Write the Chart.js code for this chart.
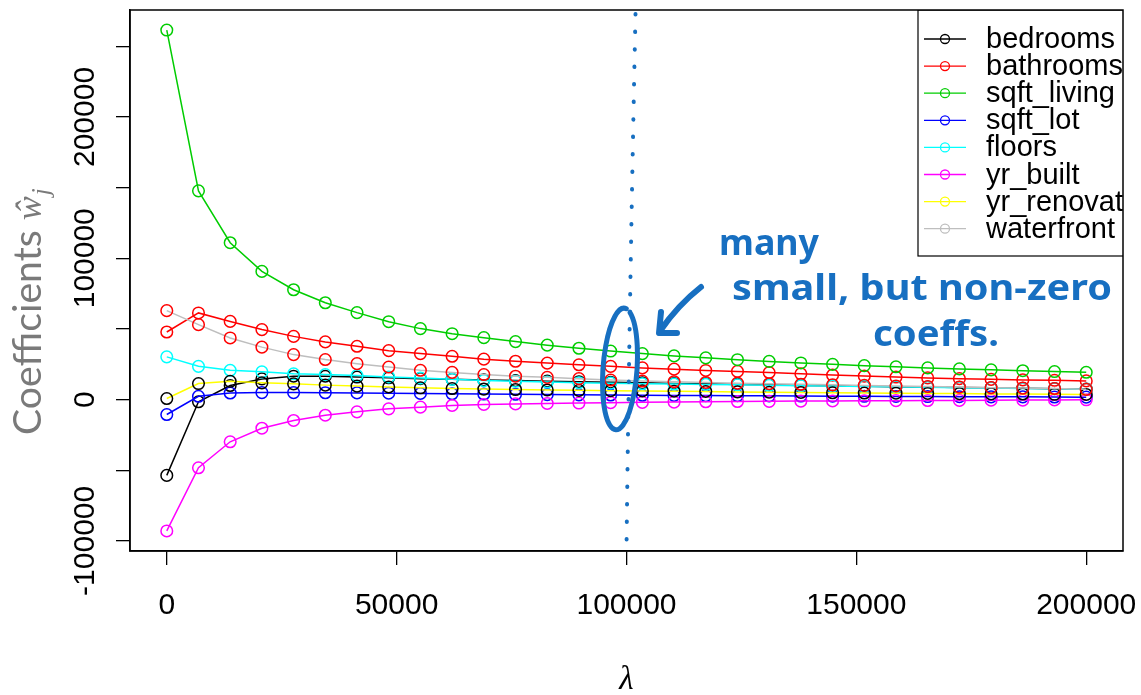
<!DOCTYPE html>
<html><head><meta charset="utf-8">
<script src="https://cdn.jsdelivr.net/npm/chart.js@4"></script>
<style>html,body{margin:0;padding:0;background:#fff;} #wrap{width:1141px;height:695px;position:relative;}</style>
</head><body><div id="wrap"><canvas id="c" width="1141" height="695"></canvas></div>
<script>
// ---- data ----
const lambdas = [0,6897,13793,20690,27586,34483,41379,48276,55172,62069,68966,75862,82759,89655,96552,103448,110345,117241,124138,131034,137931,144828,151724,158621,165517,172414,179310,186207,193103,200000];
const featureNames = ['bedrooms','bathrooms','sqft_living','sqft_lot','floors','yr_built','yr_renovated','waterfront'];
const bedrooms = [-53700,-1600,9900,14600,16500,16500,15900,15400,14800,14400,13900,13400,13000,12600,12200,11800,11400,11100,10700,10400,10000,9700,9400,9100,8800,8600,8300,8000,7700,7400];
const bathrooms = [47800,61300,55300,49500,44700,40800,37700,34600,32500,30600,28600,27100,25800,24600,23500,22400,21500,20600,19900,19100,18200,17300,16600,15900,15300,14800,14300,13900,13600,13200];
const sqftLiving = [261500,147700,111000,90700,77700,68500,61500,55100,50200,46600,43800,41000,38500,36300,34300,32500,30900,29500,28200,27000,25900,24900,24000,23200,22400,21700,21000,20400,19800,19300];
const sqftLot = [-10600,2300,4600,4900,4900,4800,4700,4500,4300,4100,3900,3700,3500,3300,3200,3000,2900,2800,2700,2600,2500,2400,2300,2200,2100,2000,1900,1900,1800,1700];
const floors = [30200,23500,20700,19600,18200,17700,17000,16000,15200,14300,13400,12900,12400,11900,11600,11200,11000,10700,10400,10100,9800,9500,9300,9000,8700,8400,8100,7800,7600,7300];
const yrBuilt = [-93000,-48300,-29900,-20300,-14800,-11100,-8700,-6600,-5400,-4200,-3500,-3100,-2800,-2500,-2200,-2000,-1800,-1600,-1400,-1300,-1100,-1000,-900,-800,-700,-600,-500,-400,-300,-200];
const yrRenovated = [700,11300,12900,11800,11100,10200,9500,8900,8300,7800,7400,7100,6800,6500,6300,6100,5900,5700,5400,5200,5000,4800,4600,4500,4300,4200,4000,3900,3700,3600];
const waterfront = [62900,53000,43600,37100,31800,28300,25400,23000,20700,19200,17700,16500,15700,14800,13800,13100,12600,12100,11600,11200,10800,10400,10000,9600,9200,8800,8400,8100,7800,7200];
const seriesValues = [bedrooms,bathrooms,sqftLiving,sqftLot,floors,yrBuilt,yrRenovated,waterfront];
const lineColors = ['#000000','#FF0000','#00CD00','#0000FF','#00FFFF','#FF00FF','#FFFF00','#BEBEBE'];
const pointColors = ['#000000','#FF0000','#00CD00','#0000FF','#00FFFF','#FF00FF','#000000','#FF0000'];
const xTicks = [0,50000,100000,150000,200000];
const xTickLabels = ['0','50000','100000','150000','200000'];
const yTicks = [-100000,-50000,0,50000,100000,150000,200000,250000];
const yTickLabels = ['-100000','','0','','100000','','200000',''];
const yTitle = 'Coefficients';
const xTitle = 'λ';
const noteLines = ['many','small, but non-zero','coeffs.'];
const noteColor = '#176fc1';

const TICKFONT = {family:'"Liberation Sans", Arial, sans-serif', size:30};

const framePlugin = {
  id:'frame',
  afterDraw(chart){
    const {ctx, chartArea:a} = chart;
    ctx.save();
    ctx.strokeStyle='#000'; ctx.lineWidth=1.5;
    ctx.strokeRect(a.left, a.top, a.right-a.left, a.bottom-a.top);
    ctx.restore();
  }
};

const legendPlugin = {
  id:'rlegend',
  afterDatasetsDraw(chart){
    const {ctx, chartArea:a} = chart;
    ctx.save();
    ctx.beginPath(); ctx.rect(a.left, a.top, a.right-a.left, a.bottom-a.top); ctx.clip();
    const bx=918, by=a.top, bw=230, bh=256-a.top;
    ctx.fillStyle='#fff'; ctx.fillRect(bx,by,bw,bh);
    ctx.strokeStyle='#000'; ctx.lineWidth=1.2; ctx.strokeRect(bx,by,bw,bh);
    ctx.font = '29px "Liberation Sans", Arial, sans-serif';
    ctx.textBaseline='middle'; ctx.textAlign='left';
    chart.data.datasets.forEach((ds,i)=>{
      const y = 39 + i*27.1;
      ctx.strokeStyle = lineColors[i]; ctx.lineWidth=1.3;
      ctx.beginPath(); ctx.moveTo(924,y); ctx.lineTo(966,y); ctx.stroke();
      ctx.beginPath(); ctx.arc(945,y,4.5,0,Math.PI*2); ctx.stroke();
      ctx.fillStyle='#000';
      ctx.fillText(ds.label, 986, y+1);
    });
    ctx.restore();
  }
};

function fitText(ctx, text, font, left, baseline, width){
  ctx.font = font;
  const w = ctx.measureText(text).width;
  ctx.save();
  ctx.translate(left, baseline);
  ctx.scale(width/w, 1);
  ctx.fillText(text, 0, 0);
  ctx.restore();
}

const annotatePlugin = {
  id:'annot',
  afterDraw(chart){
    const {ctx} = chart;
    const xs = chart.scales.x;
    ctx.save();
    // y-axis title
    ctx.save();
    ctx.translate(41, 435); ctx.rotate(-Math.PI/2);
    ctx.fillStyle='#7a7a7a'; ctx.textAlign='left'; ctx.textBaseline='alphabetic';
    ctx.font='37px Lato, "Open Sans", sans-serif';
    let w = ctx.measureText(yTitle).width;
    const fs = 37*205/w;
    ctx.font = fs.toFixed(1)+'px Lato, "Open Sans", sans-serif';
    ctx.fillText(yTitle, 0, 0);
    let x = ctx.measureText(yTitle).width + 10;
    ctx.font = 'italic 36px "Liberation Serif", "DejaVu Serif", serif';
    ctx.fillText('ŵ', x, 0);
    x += ctx.measureText('ŵ').width + 1;
    ctx.font = 'italic 25px "Liberation Serif", "DejaVu Serif", serif';
    ctx.fillText('j', x, 8);
    ctx.restore();

    // dotted vertical line near lambda = 100000
    const xp = xs.getPixelForValue(100000);
    ctx.strokeStyle = noteColor; ctx.lineCap='round';
    ctx.lineWidth = 4; ctx.setLineDash([0.5, 17]);
    ctx.beginPath(); ctx.moveTo(xp+9, 14); ctx.quadraticCurveTo(xp+3, 300, xp, 548); ctx.stroke();
    ctx.setLineDash([]);
    // ellipse
    ctx.lineWidth = 5;
    ctx.beginPath(); ctx.ellipse(620, 369, 17, 61, 0.07, -1.2, Math.PI*2-1.45); ctx.stroke();
    // arrow
    ctx.lineWidth = 6; ctx.lineJoin='round';
    ctx.beginPath(); ctx.moveTo(701, 287); ctx.quadraticCurveTo(678, 305, 660, 331); ctx.stroke();
    ctx.beginPath(); ctx.moveTo(661, 312); ctx.lineTo(659, 333); ctx.lineTo(677, 333); ctx.stroke();
    // handwritten note
    ctx.fillStyle = noteColor; ctx.textBaseline='alphabetic'; ctx.textAlign='left';
    const nf = 'bold 36px "Noto Sans", "DejaVu Sans", sans-serif';
    fitText(ctx, noteLines[0], nf, 719, 255, 100);
    fitText(ctx, noteLines[1], nf, 732, 300, 380);
    fitText(ctx, noteLines[2], nf, 873, 346, 126);
    ctx.restore();
  }
};

const datasets = seriesValues.map((vals,i)=>({
  label: featureNames[i],
  data: lambdas.map((lx,j)=>({x:lx, y:vals[j]})),
  borderColor: lineColors[i],
  backgroundColor: 'rgba(0,0,0,0)',
  pointBorderColor: pointColors[i],
  pointBackgroundColor: 'rgba(0,0,0,0)',
  pointRadius: 5.8,
  pointBorderWidth: 1.5,
  borderWidth: 1.5,
  tension: 0,
  fill: false,
  order: seriesValues.length - i
}));

new Chart(document.getElementById('c'), {
  type:'line',
  data:{datasets},
  plugins:[legendPlugin, framePlugin, annotatePlugin],
  options:{
    responsive:false, animation:false, devicePixelRatio:1,
    layout:{padding:{top:10, right:18, left:0, bottom:0}},
    plugins:{legend:{display:false}, tooltip:{enabled:false}},
    scales:{
      x:{
        type:'linear', min:-8000, max:208000,
        afterBuildTicks(s){ s.ticks = xTicks.map(v=>({value:v})); },
        afterFit(s){ s.height = 144; s.paddingLeft = 0; s.paddingRight = 0; },
        ticks:{ autoSkip:false, maxRotation:0, minRotation:0, padding:23, color:'#000', font:TICKFONT,
          callback:(v)=> xTickLabels[xTicks.indexOf(v)] },
        grid:{ drawOnChartArea:false, drawTicks:true, tickLength:14, color:'#000', lineWidth:1.3 },
        border:{ display:true, color:'#000', width:1.5 },
        title:{ display:true, text:xTitle, color:'#000', padding:{top:0,bottom:-5},
          font:{family:'"Liberation Serif", "DejaVu Serif", serif', style:'italic', size:33} }
      },
      y:{
        type:'linear', min:-107200, max:275700,
        afterBuildTicks(s){ s.ticks = yTicks.map(v=>({value:v})); },
        afterFit(s){ s.width = 130; s.paddingTop = 0; s.paddingBottom = 0; },
        ticks:{ autoSkip:false, minRotation:90, maxRotation:90, crossAlign:'center', padding:-25, color:'#000', font:TICKFONT,
          callback:(v)=> yTickLabels[yTicks.indexOf(v)] },
        grid:{ drawOnChartArea:false, drawTicks:true, tickLength:14, color:'#000', lineWidth:1.3 },
        border:{ display:true, color:'#000', width:1.5 }
      }
    }
  }
});
</script></body></html>
